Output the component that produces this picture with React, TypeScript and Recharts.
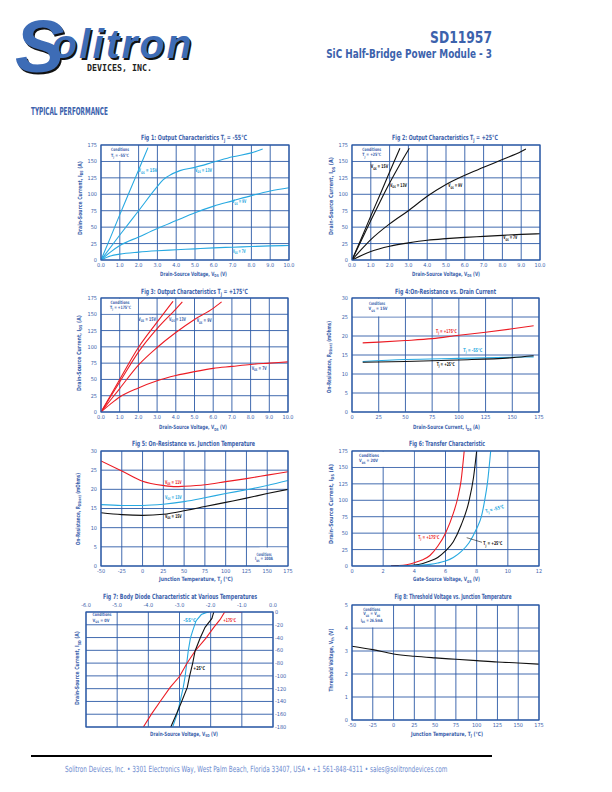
import React, { useLayoutEffect, useRef, useState } from 'react';
import { LineChart, Line, XAxis, YAxis, CartesianGrid } from 'recharts';

const BLUE = '#3c62ac';
const GRID = '#2c5aa6';
const CYAN = '#27a9e1';
const RED = '#ec1c24';
const BLACK = '#111111';
const LOGO = '#3d6cb6';
const FONT = "'Liberation Sans Narrow', 'DejaVu Sans Condensed', 'Roboto Condensed', Arial, sans-serif";

// ticks
const vdsTicks = [0, 1, 2, 3, 4, 5, 6, 7, 8, 9, 10];
const idsTicks = [0, 25, 50, 75, 100, 125, 150, 175];
const rdsTicks = [0, 5, 10, 15, 20, 25, 30];
const tempTicks = [-50, -25, 0, 25, 50, 75, 100, 125, 150, 175];
const vgsTicks = [0, 2, 4, 6, 8, 10, 12];
const vsdTicks = [-6, -5, -4, -3, -2, -1, 0];
const isdTicks = [0, -20, -40, -60, -80, -100, -120, -140, -160, -180];
const vthTicks = [0, 1, 2, 3, 4, 5];

// Fig 1: Tj = -55C  [Vds, Ids]
const f1Vgs15 = [[0, 0], [0.5, 34], [1, 69], [1.5, 103], [2, 137], [2.5, 171]];
const f1Vgs13 = [[0, 0], [1, 38], [2, 75], [3, 112], [3.3, 122], [3.6, 128], [4.2, 136], [5, 141], [6, 149], [7, 157], [8, 163], [8.6, 169]];
const f1Vgs9 = [[0, 0], [0.5, 12], [1, 22], [2, 35], [3, 48], [4, 60], [5, 72], [6, 82], [7, 90], [8, 98], [9, 105], [10, 110]];
const f1Vgs7 = [[0, 0], [0.5, 6], [1, 9], [2, 12], [3, 14], [4, 15.5], [5, 17], [6, 18.5], [7, 19.5], [8, 20.5], [9, 21.5], [10, 22]];

// Fig 2: Tj = +25C
const f2Vgs15 = [[0, 0], [0.5, 33], [1, 67], [1.5, 100], [2, 134], [2.55, 170]];
const f2Vgs13 = [[0, 0], [0.5, 30], [1, 60], [1.5, 89], [2, 117], [2.5, 143], [3.05, 170]];
const f2Vgs9 = [[0, 0], [0.5, 16], [1, 31], [2, 55], [3, 75], [4, 97], [5, 115], [6, 129], [7, 141], [8, 153], [9, 165], [9.25, 169]];
const f2Vgs7 = [[0, 0], [0.5, 7], [1, 13], [2, 21], [3, 26], [4, 30], [5, 32.5], [6, 34.5], [7, 36], [8, 37.5], [9, 39], [10, 40]];

// Fig 3: Tj = +175C
const f3Vgs15 = [[0, 0], [1, 50], [2, 99], [3, 138], [3.85, 170]];
const f3Vgs13 = [[0, 0], [1, 46], [2, 92], [3, 128], [4, 158], [4.35, 169]];
const f3Vgs9 = [[0, 0], [1, 36], [2, 72], [3, 99], [4, 122], [5, 142], [6, 159], [6.45, 169]];
const f3Vgs7 = [[0, 0], [0.5, 12], [1, 23], [2, 37], [3, 48], [4, 56], [5, 62], [6, 67], [7, 70], [8, 73], [9, 75], [10, 77]];

// Fig 4: Rds(on) vs Ids
const f4T175 = [[10, 18.2], [25, 18.4], [50, 18.8], [75, 19.3], [100, 20.2], [125, 21.0], [150, 21.9], [170, 22.7]];
const f4Tm55 = [[10, 13.3], [50, 13.8], [100, 14.1], [150, 14.4], [170, 14.5]];
const f4T25 = [[10, 13.1], [50, 13.3], [100, 13.7], [150, 14.3], [170, 14.8]];

// Fig 5: Rds(on) vs Tj
const f5Vgs11 = [[-50, 27.4], [-25, 24.8], [0, 22.1], [25, 21.0], [40, 20.7], [50, 20.8], [75, 21.2], [100, 22.0], [125, 22.8], [150, 23.7], [175, 24.6]];
const f5Vgs13 = [[-50, 16.0], [-25, 15.8], [0, 15.8], [25, 16.1], [50, 16.8], [75, 17.8], [100, 18.9], [125, 19.9], [150, 21.0], [175, 22.3]];
const f5Vgs15 = [[-50, 13.9], [-25, 13.4], [0, 13.2], [25, 13.5], [50, 14.4], [75, 15.5], [100, 16.6], [125, 17.7], [150, 18.9], [175, 20.0]];

// Fig 6: transfer
const f6T175 = [[2.5, 0], [3, 0.5], [3.5, 2], [4, 5], [4.5, 9], [5, 16], [5.5, 30], [6, 50], [6.5, 80], [6.8, 105], [7, 130], [7.2, 175]];
const f6T25 = [[2.5, 0], [3, 0.3], [4, 1.5], [4.5, 3.5], [5, 7.5], [5.5, 13], [6, 23], [6.5, 37], [7, 62], [7.5, 98], [7.8, 135], [8, 175]];
const f6Tm55 = [[3, 0], [4, 0.5], [5, 2.5], [5.5, 4.5], [6, 7.5], [6.5, 13], [7, 22], [7.5, 35], [8, 57], [8.3, 75], [8.5, 98], [8.7, 128], [8.9, 175]];

// Fig 7: body diode [Vsd, Isd]
const f7Tm55 = [[-2.05, 0], [-2.15, -1], [-2.3, -4], [-2.47, -14], [-2.58, -30], [-2.65, -41], [-2.72, -61], [-2.77, -81], [-2.82, -101], [-2.88, -118], [-2.98, -140], [-3.07, -159], [-3.22, -180]];
const f7T25 = [[-1.9, 0], [-1.93, -5], [-1.96, -10], [-2.02, -14], [-2.18, -24], [-2.34, -41], [-2.5, -61], [-2.58, -81], [-2.68, -101], [-2.75, -118], [-2.93, -140], [-3.09, -159], [-3.28, -180]];
const f7T175 = [[-1.0, 0], [-1.55, 0], [-1.7, -12], [-1.9, -24], [-2.15, -41], [-2.5, -61], [-2.77, -81], [-3.0, -101], [-3.3, -118], [-3.62, -140], [-3.89, -159], [-4.16, -180]];

// Fig 8: Vth vs Tj
const f8Vth = [[-50, 3.21], [-25, 3.06], [0, 2.87], [25, 2.77], [50, 2.70], [75, 2.64], [100, 2.58], [125, 2.52], [150, 2.48], [175, 2.43]];

type Box = { x: number; y: number; w: number; h: number; xd: number[]; yd: number[] };
const P1: Box = { x: 101, y: 145, w: 188, h: 115, xd: [0, 10], yd: [0, 175] };
const P2: Box = { x: 352, y: 145, w: 188, h: 115, xd: [0, 10], yd: [0, 175] };
const P3: Box = { x: 101, y: 298, w: 187, h: 114, xd: [0, 10], yd: [0, 175] };
const P4: Box = { x: 352, y: 298, w: 187, h: 114, xd: [0, 175], yd: [0, 30] };
const P5: Box = { x: 101, y: 451, w: 187, h: 115, xd: [-50, 175], yd: [0, 30] };
const P6: Box = { x: 352, y: 451, w: 187, h: 115, xd: [0, 12], yd: [0, 175] };
const P7: Box = { x: 86, y: 612, w: 187, h: 115, xd: [-6, 0], yd: [-180, 0] };
const P8: Box = { x: 352, y: 605, w: 187, h: 115, xd: [-50, 175], yd: [0, 5] };

const mx = (p: Box, v: number) => p.x + ((v - p.xd[0]) / (p.xd[1] - p.xd[0])) * p.w;
const my = (p: Box, v: number) => p.y + p.h - ((v - p.yd[0]) / (p.yd[1] - p.yd[0])) * p.h;
const pts = (d: number[][]) => d.map(([x, y]) => ({ x, y }));
const f1 = (v: number) => v.toFixed(1);

type Series = { data: number[][]; color: string; curve?: 'monotone' | 'linear' };

function Panel({ p, xTicks, yTicks, xFmt, series, flipped }: { p: Box; xTicks: number[]; yTicks: number[]; xFmt?: (v: number) => string; series: Series[]; flipped?: boolean }) {
  const tick = { fontSize: 5.5, fill: BLUE, fontFamily: FONT };
  return (
    <div style={{ position: 'absolute', left: p.x - 30, top: p.y - 20 }}>
      <LineChart
        width={p.w + 60}
        height={p.h + 40}
        margin={flipped ? { top: 0, right: 0, bottom: 20, left: 30 } : { top: 20, right: 30, bottom: 0, left: 0 }}
      >
        <CartesianGrid stroke={GRID} strokeWidth={0.9} />
        <XAxis type="number" dataKey="x" domain={p.xd} ticks={xTicks} interval={0} allowDataOverflow
          orientation={flipped ? 'top' : 'bottom'} height={20} tickLine={false} axisLine={false}
          tickSize={0} tickMargin={flipped ? 5 : 3} tick={tick} tickFormatter={xFmt} />
        <YAxis type="number" domain={p.yd} ticks={yTicks} interval={0} allowDataOverflow
          orientation={flipped ? 'right' : 'left'} width={30} tickLine={false} axisLine={false}
          tickSize={0} tickMargin={flipped ? 2 : 4} tick={tick} />
        {series.map((s, i) => (
          <Line key={i} data={pts(s.data)} dataKey="y" type={s.curve ?? 'monotone'} stroke={s.color}
            strokeWidth={1.1} dot={false} isAnimationActive={false} />
        ))}
      </LineChart>
    </div>
  );
}

// text squeezed to a target width (the original face is very condensed)
function T({ x, y, s, size = 5, len, fill = BLUE, anchor = 'start', weight = 700, rot }: {
  x: number; y: number; s: string; size?: number; len?: number; fill?: string; anchor?: string; weight?: number; rot?: number;
}) {
  const ref = useRef<SVGTextElement>(null);
  const [k, setK] = useState(1);
  useLayoutEffect(() => {
    if (len && ref.current) {
      const w = ref.current.getComputedTextLength();
      if (w > 0) setK(len / w);
    }
  }, [len, s, size]);
  const parts = s.split(/_\{([^}]*)\}/);
  const sub = size * 0.28;
  const tr = `translate(${x} ${y})${rot ? ` rotate(${rot})` : ''} scale(${k} 1)`;
  return (
    <text ref={ref} x={0} y={0} fontSize={size} fill={fill} textAnchor={anchor} fontWeight={weight} fontFamily={FONT} transform={tr}>
      {parts.length === 1
        ? s
        : parts.map((t, i) =>
            i % 2 === 1 ? (
              <tspan key={i} fontSize={size * 0.7} dy={sub}>{t}</tspan>
            ) : (
              <tspan key={i} dy={i > 0 ? -sub : 0}>{t}</tspan>
            )
          )}
    </text>
  );
}

function WBox({ p, x0, x1, y0, y1 }: { p: Box; x0: number; x1: number; y0: number; y1: number }) {
  const l = mx(p, x0) + 0.7, r = mx(p, x1) - 0.6, t = my(p, y1) + 0.7, b = my(p, y0) - 0.6;
  return <rect x={l} y={t} width={r - l} height={b - t} fill="#fff" />;
}

const panels = [P1, P2, P3, P4, P5, P6, P7, P8];
const LOGO_FONT = "'Liberation Sans', Arial, sans-serif";

export default function App() {
  return (
    <div style={{ position: 'absolute', left: 0, top: 0, width: 612, height: 792, background: '#fff', overflow: 'hidden' }}>
      <Panel p={P1} xTicks={vdsTicks} yTicks={idsTicks} xFmt={f1} series={[
        { data: f1Vgs15, color: CYAN }, { data: f1Vgs13, color: CYAN }, { data: f1Vgs9, color: CYAN }, { data: f1Vgs7, color: CYAN }]} />
      <Panel p={P2} xTicks={vdsTicks} yTicks={idsTicks} xFmt={f1} series={[
        { data: f2Vgs15, color: BLACK }, { data: f2Vgs13, color: BLACK }, { data: f2Vgs9, color: BLACK }, { data: f2Vgs7, color: BLACK }]} />
      <Panel p={P3} xTicks={vdsTicks} yTicks={idsTicks} xFmt={f1} series={[
        { data: f3Vgs15, color: RED }, { data: f3Vgs13, color: RED }, { data: f3Vgs9, color: RED }, { data: f3Vgs7, color: RED }]} />
      <Panel p={P4} xTicks={idsTicks} yTicks={rdsTicks} series={[
        { data: f4T175, color: RED }, { data: f4Tm55, color: CYAN }, { data: f4T25, color: BLACK }]} />
      <Panel p={P5} xTicks={tempTicks} yTicks={rdsTicks} series={[
        { data: f5Vgs11, color: RED }, { data: f5Vgs13, color: CYAN }, { data: f5Vgs15, color: BLACK }]} />
      <Panel p={P6} xTicks={vgsTicks} yTicks={idsTicks} series={[
        { data: f6T175, color: RED }, { data: f6T25, color: BLACK }, { data: f6Tm55, color: CYAN }]} />
      <Panel p={P7} xTicks={vsdTicks} yTicks={isdTicks} xFmt={f1} flipped series={[
        { data: f7Tm55, color: CYAN, curve: 'linear' }, { data: f7T175, color: RED, curve: 'linear' }, { data: f7T25, color: BLACK, curve: 'linear' }]} />
      <Panel p={P8} xTicks={tempTicks} yTicks={vthTicks} series={[{ data: f8Vth, color: BLACK }]} />

      <svg width={612} height={792} style={{ position: 'absolute', left: 0, top: 0, pointerEvents: 'none' }}>
        <defs>
          <text id="logoSO" fontFamily={LOGO_FONT} fontWeight={700} fontStyle="italic">
            <tspan x={15} y={72} fontSize={74}>S</tspan>
            <tspan x={52} y={58} fontSize={41} letterSpacing={2}>olitron</tspan>
          </text>
        </defs>
        {/* header: logo shadow is a clone of the lettering */}
        <use href="#logoSO" x={1.6} y={1.6} fill="#111" />
        <text fontFamily={LOGO_FONT} fontWeight={700} fontStyle="italic" fill={LOGO}>
          <tspan x={15} y={72} fontSize={74}>S</tspan>
          <tspan x={52} y={58} fontSize={41} letterSpacing={2}>olitron</tspan>
          <tspan x={87} y={71} fontSize={8.3} fontFamily="'DejaVu Sans Mono', monospace" fontStyle="normal" fill="#222" letterSpacing={0}>DEVICES, INC.</tspan>
        </text>
        <T x={492} y={42.5} s="SD11957" size={16} len={62} anchor="end" />
        <T x={492} y={57.5} s="SiC Half-Bridge Power Module - 3" size={12.5} len={166} anchor="end" />
        <T x={31} y={115} s="TYPICAL PERFORMANCE" size={10.5} len={77} />

        {/* white condition boxes */}
        <WBox p={P1} x0={0} x1={2} y0={150} y1={175} />
        <WBox p={P2} x0={0} x1={2} y0={150} y1={175} />
        <WBox p={P3} x0={0} x1={2} y0={150} y1={175} />
        <WBox p={P4} x0={0} x1={50} y0={25} y1={30} />
        <WBox p={P5} x0={140} x1={175} y0={0} y1={5} />
        <WBox p={P6} x0={0} x1={4} y0={150} y1={175} />
        <WBox p={P8} x0={-50} x1={0} y0={4} y1={5} />

        {panels.map((p, i) => (
          <rect key={i} x={p.x} y={p.y} width={p.w} height={p.h} fill="none" stroke={GRID} strokeWidth={1.2} />
        ))}

        {/* titles */}
        <T x={194} y={139.5} s="Fig 1: Output Characteristics T_{J} = -55°C" size={7.2} len={106} anchor="middle" />
        <T x={445} y={139.5} s="Fig 2: Output Characteristics T_{J} = +25°C" size={7.2} len={106} anchor="middle" />
        <T x={194.5} y={293.5} s="Fig 3: Output Characteristics T_{J} = +175°C" size={7.2} len={107} anchor="middle" />
        <T x={445.5} y={293.5} s="Fig 4:On-Resistance vs. Drain Current" size={7.2} len={101} anchor="middle" />
        <T x={193.5} y={446} s="Fig 5: On-Resistance vs. Junction Temperature" size={7.2} len={123} anchor="middle" />
        <T x={447} y={446} s="Fig 6: Transfer Characteristic" size={7.2} len={76} anchor="middle" />
        <T x={180} y={598.5} s="Fig 7: Body Diode Characteristic at Various Temperatures" size={7.2} len={154} anchor="middle" />
        <T x={453} y={598.5} s="Fig 8: Threshold Voltage vs. Junction Temperature" size={7.2} len={117} anchor="middle" />

        {/* x labels */}
        <T x={193.5} y={275.5} s="Drain-Source Voltage, V_{DS} (V)" size={5.8} len={67} anchor="middle" />
        <T x={446} y={275.5} s="Drain-Source Voltage, V_{DS} (V)" size={5.8} len={68} anchor="middle" />
        <T x={193} y={429} s="Drain-Source Voltage, V_{DS} (V)" size={5.8} len={68} anchor="middle" />
        <T x={446.5} y={429} s="Drain-Source Current, I_{DS} (A)" size={5.8} len={67} anchor="middle" />
        <T x={196} y={581} s="Junction Temperature, T_{J} (°C)" size={5.8} len={74} anchor="middle" />
        <T x={446.5} y={581} s="Gate-Source Voltage, V_{GS} (V)" size={5.8} len={67} anchor="middle" />
        <T x={184} y={735.5} s="Drain-Source Voltage, V_{SD} (V)" size={5.8} len={68} anchor="middle" />
        <T x={447} y={735.5} s="Junction Temperature, T_{J} (°C)" size={5.8} len={72} anchor="middle" />

        {/* y labels */}
        <T x={81.5} y={198} s="Drain-Source Current, I_{DS} (A)" size={5.8} len={74} anchor="middle" rot={-90} />
        <T x={333} y={196} s="Drain-Source Current, I_{DS} (A)" size={5.8} len={78} anchor="middle" rot={-90} />
        <T x={80.5} y={353} s="Drain-Source Current, I_{DS} (A)" size={5.8} len={76} anchor="middle" rot={-90} />
        <T x={330.5} y={357} s="On-Resistance, R_{DS(on)} (mOhms)" size={5.8} len={72} anchor="middle" rot={-90} />
        <T x={79.5} y={509} s="On-Resistance, R_{DS(on)} (mOhms)" size={5.8} len={72} anchor="middle" rot={-90} />
        <T x={332.5} y={504} s="Drain-Source Current, I_{DS} (A)" size={5.8} len={80} anchor="middle" rot={-90} />
        <T x={79} y={668} s="Drain-Source Current, I_{SD} (A)" size={5.8} len={74} anchor="middle" rot={-90} />
        <T x={332.5} y={660} s="Threshold Voltage, V_{th} (V)" size={5.8} len={63} anchor="middle" rot={-90} />

        {/* fig 1 labels */}
        <T x={120} y={150.7} s="Conditions" size={4.5} len={18} anchor="middle" />
        <T x={120} y={157} s="T_{J} = -55°C" size={4.5} len={18} anchor="middle" />
        <T x={138.3} y={172.3} s="V_{GS} = 15V" len={19} fill={CYAN} />
        <T x={195} y={172} s="V_{GS} = 13V" len={17} fill={CYAN} />
        <T x={232.3} y={203.3} s="V_{GS} = 9V" len={14} fill={CYAN} />
        <T x={232.7} y={252.7} s="V_{GS} = 7V" len={13} fill={CYAN} />

        {/* fig 2 labels */}
        <T x={371.7} y={150.7} s="Conditions" size={4.5} len={19} anchor="middle" />
        <T x={371.7} y={156.3} s="T_{J} = +25°C" size={4.5} len={19} anchor="middle" />
        <T x={370.7} y={168.3} s="V_{GS} = 15V" len={17.5} fill={BLACK} />
        <T x={390} y={186.7} s="V_{GS} = 13V" len={17} fill={BLACK} />
        <T x={448.3} y={187.3} s="V_{GS} = 9V" len={14} fill={BLACK} />
        <T x={503.3} y={239.3} s="V_{GS} = 7V" len={14} fill={BLACK} />

        {/* fig 3 labels */}
        <T x={120} y={303.7} s="Conditions" size={4.5} len={19} anchor="middle" />
        <T x={120.5} y={309} s="T_{J} = +175°C" size={4.5} len={21} anchor="middle" />
        <T x={138.3} y={321} s="V_{GS} = 15V" len={17.7} fill={BLUE} />
        <T x={169} y={321} s="V_{GS} = 13V" len={17} fill={BLUE} />
        <T x={196.7} y={322.3} s="V_{GS} = 9V" len={15} fill={BLUE} />
        <T x={251.7} y={370} s="V_{GS} = 7V" len={15} fill={BLUE} />

        {/* fig 4 labels */}
        <T x={377} y={304.7} s="Conditions" size={4.5} len={16} anchor="middle" />
        <T x={378} y={310.3} s="V_{GS} = 15V" size={4.5} len={19} anchor="middle" />
        <T x={436} y={333} s="T_{J} = +175°C" len={20.7} fill={RED} />
        <T x={463.3} y={352} s="T_{J} = -55°C" len={19} fill={CYAN} />
        <T x={436.7} y={365.7} s="T_{J} = +25°C" len={18} fill={BLACK} />

        {/* fig 5 labels */}
        <T x={165} y={483.7} s="V_{GS} = 11V" len={16.7} fill={RED} />
        <T x={165} y={499} s="V_{GS} = 13V" len={16.7} fill={CYAN} />
        <T x={165} y={517.7} s="V_{GS} = 15V" len={16.7} fill={BLACK} />
        <T x={264} y={555.7} s="Conditions" size={4.5} len={15} anchor="middle" />
        <T x={264} y={560.3} s="I_{DS} = 100A" size={4.5} len={18} anchor="middle" />

        {/* fig 6 labels */}
        <T x={369} y={456.7} s="Conditions" size={4.5} len={20} anchor="middle" />
        <T x={368.5} y={462.3} s="V_{DS} = 20V" size={4.5} len={19} anchor="middle" />
        <T x={418.3} y={538.7} s="T_{J} = +175°C" len={21} fill={RED} />
        <T x={483.3} y={545.3} s="T_{J} = +25°C" len={19} fill={BLACK} />
        <line x1={482} y1={542.3} x2={466.7} y2={537.7} stroke={BLACK} strokeWidth={0.6} />
        <T x={486} y={513} s="T_{J} = -55°C" len={19} fill={CYAN} rot={-15} />

        {/* fig 7 labels */}
        <T x={102} y={616.3} s="Conditions" size={4.5} len={19} anchor="middle" />
        <T x={101} y={621.7} s="V_{GS} = 0V" size={4.5} len={17} anchor="middle" />
        <T x={183.3} y={622.3} s="-55°C" len={12.7} fill={CYAN} />
        <T x={223.3} y={621.7} s="+175°C" len={12.7} fill={RED} />
        <T x={193.3} y={670} s="+25°C" len={11.7} fill={BLACK} />

        {/* fig 8 labels */}
        <T x={371.7} y={610.7} s="Conditions" size={4.5} len={17} anchor="middle" />
        <T x={371.7} y={615.3} s="V_{GS} = V_{DS}" size={4.5} len={17} anchor="middle" />
        <T x={371.7} y={621.7} s="I_{DS} = 26.5mA" size={4.5} len={22} anchor="middle" />

        {/* footer */}
        <line x1={31} y1={756} x2={492} y2={756} stroke="#000" strokeWidth={2} />
        <T x={65} y={771.5} s="Solitron Devices, Inc. • 3301 Electronics Way, West Palm Beach, Florida 33407, USA • +1 561-848-4311  •  sales@solitrondevices.com"
          size={8.5} len={383} fill="#6e8ccf" weight={400} />
      </svg>
    </div>
  );
}
